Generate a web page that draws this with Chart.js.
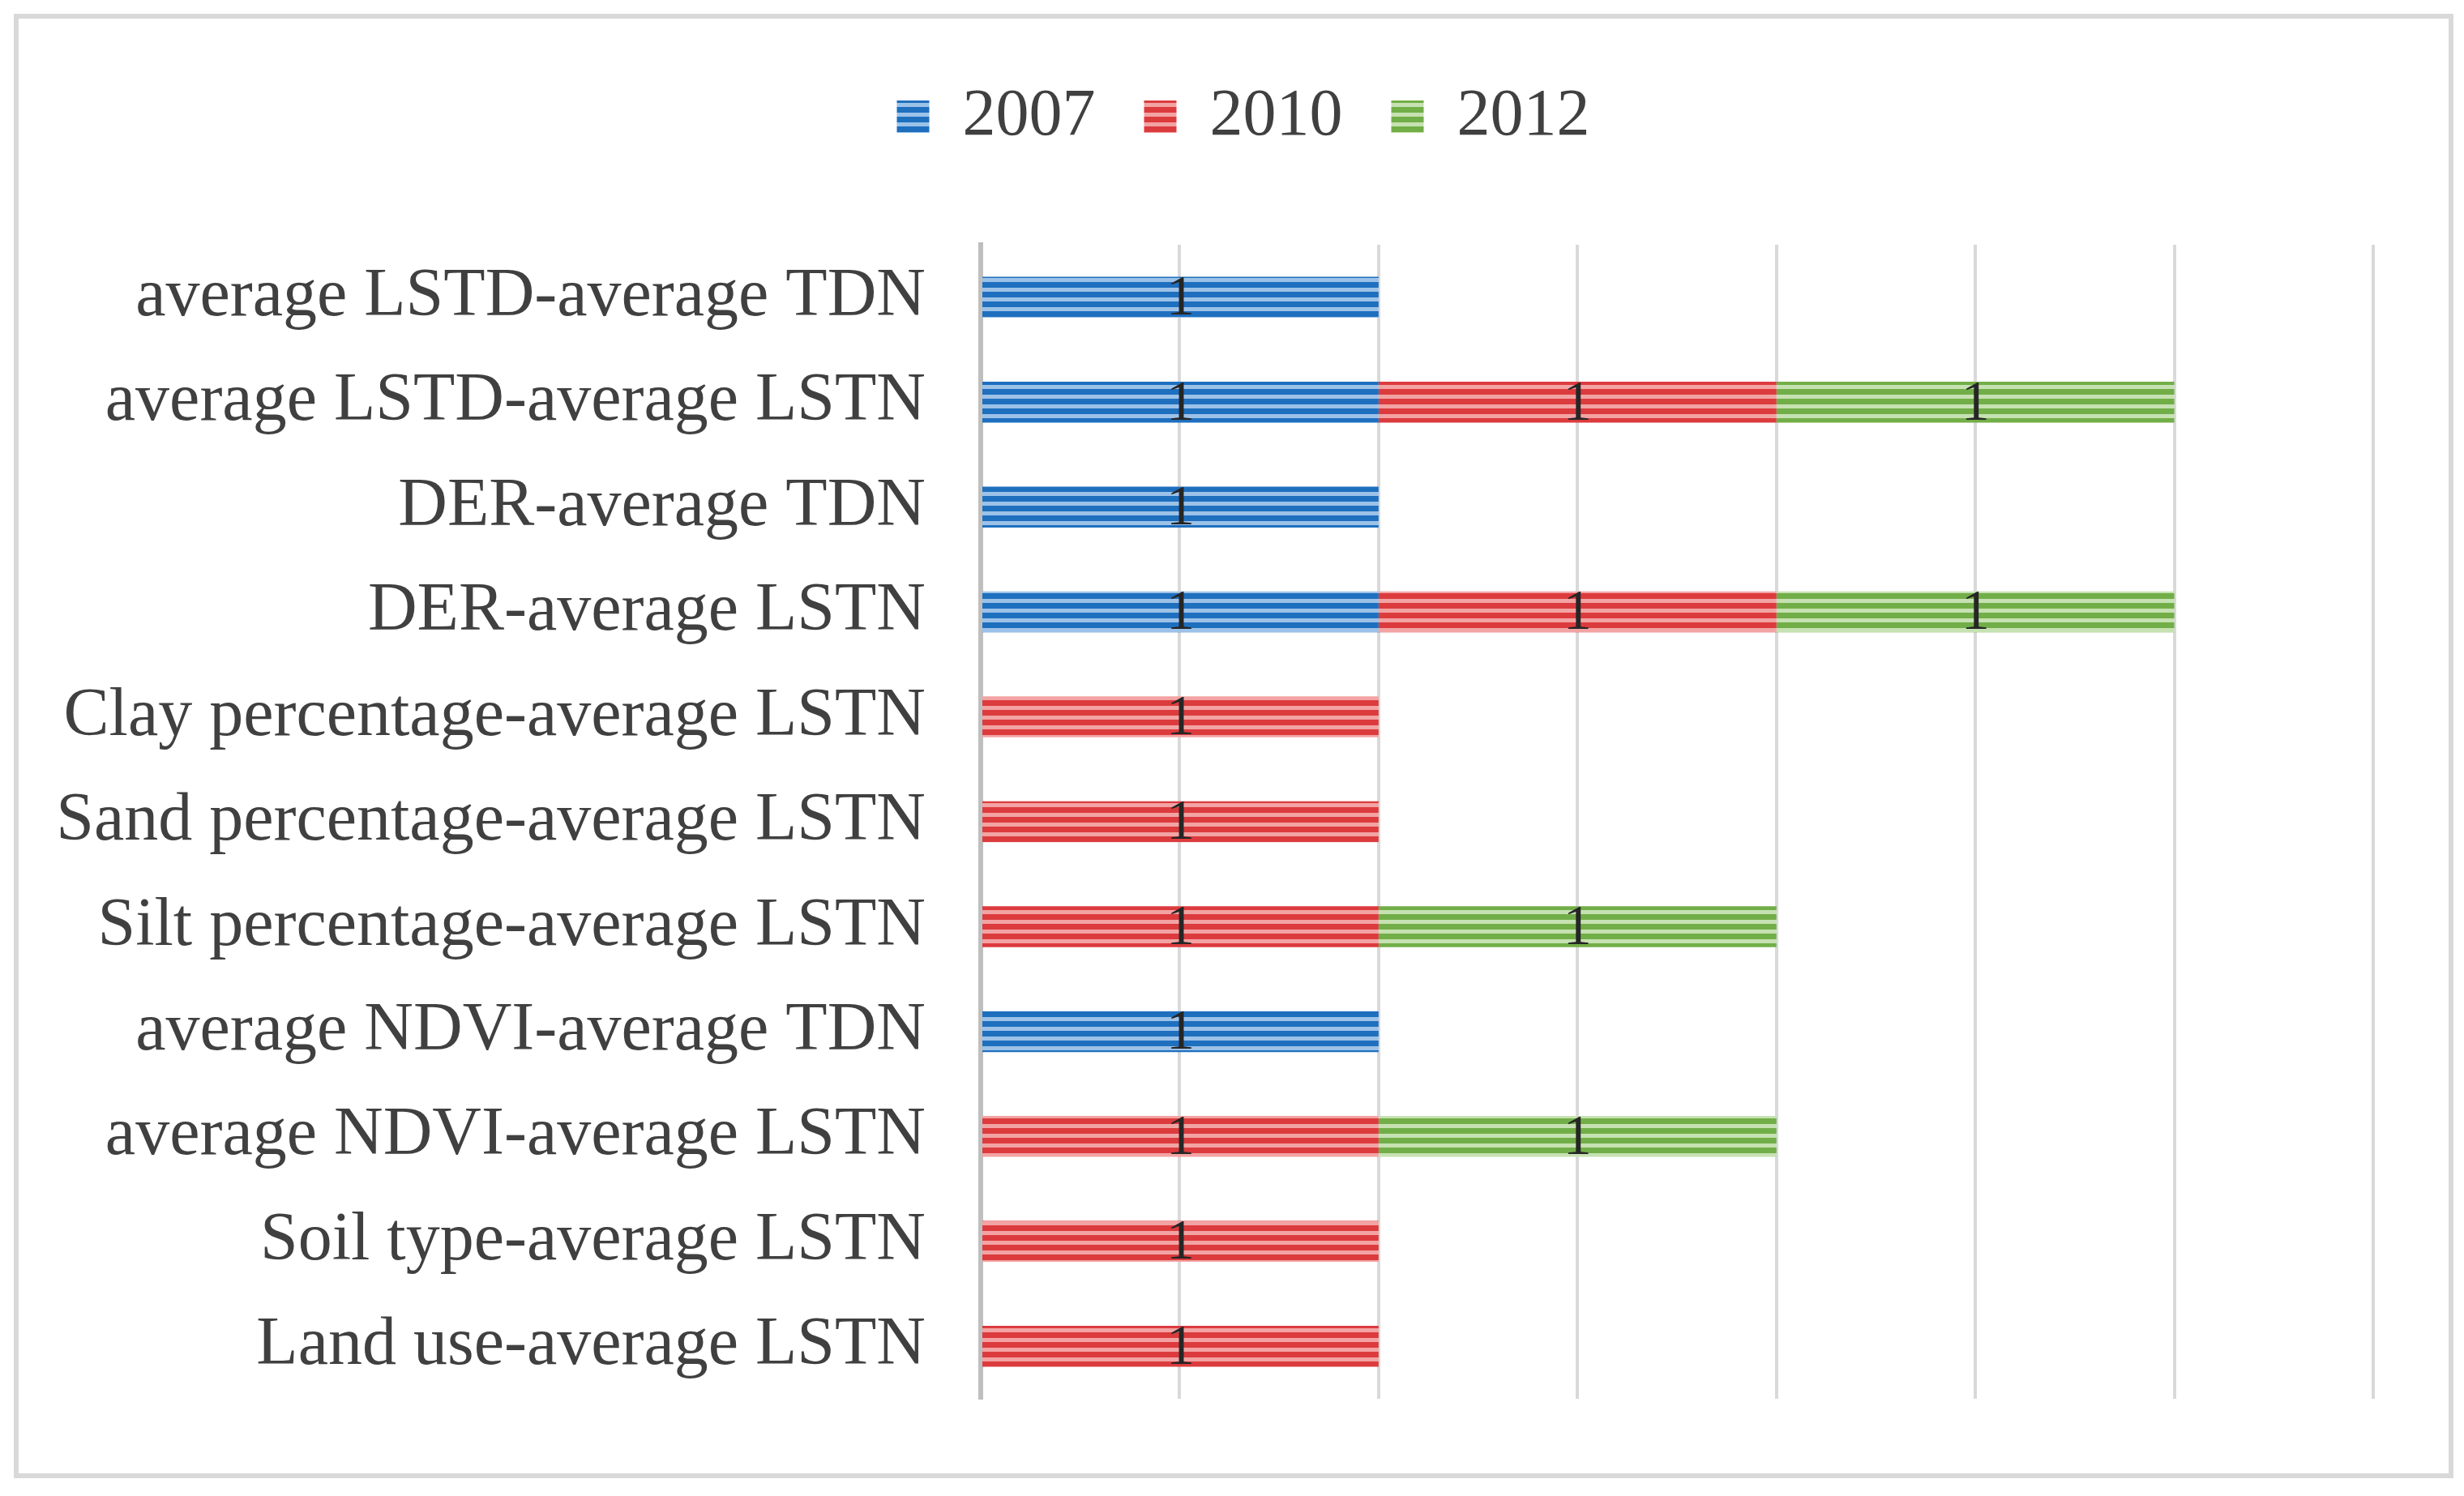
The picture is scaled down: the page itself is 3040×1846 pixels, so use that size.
<!DOCTYPE html>
<html lang="en">
  <head>
    <meta charset="UTF-8" />
    <title>Stacked bars 2007 / 2010 / 2012</title>
    <script src="https://cdn.jsdelivr.net/npm/chart.js"></script>
    <style>
      html,
      body {
        margin: 0;
        padding: 0;
        background: #fff;
      }
      .moldura {
        position: absolute;
        left: 17px;
        top: 17px;
        width: 3010px;
        height: 1807px;
        box-sizing: border-box;
        border: 6px solid #d9d9d9;
        pointer-events: none;
      }
      .chart-container {
        position: absolute;
        left: 0;
        top: 0;
        width: 3040px;
        height: 1846px;
      }
    </style>
  </head>
  <body>
    <div class="chart-container">
      <canvas id="grafico"></canvas>
    </div>
    <div class="moldura"></div>

    <script>
      const categorias = [
        "average LSTD-average TDN",
        "average LSTD-average LSTN",
        "DER-average TDN",
        "DER-average LSTN",
        "Clay percentage-average LSTN",
        "Sand percentage-average LSTN",
        "Silt percentage-average LSTN",
        "average NDVI-average TDN",
        "average NDVI-average LSTN",
        "Soil type-average LSTN",
        "Land use-average LSTN",
      ];
      const anos = ["2007", "2010", "2012"];
      const valores2007 = [1, 1, 1, 1, null, null, null, 1, null, null, null];
      const valores2010 = [null, 1, null, 1, 1, 1, 1, null, 1, 1, 1];
      const valores2012 = [null, 1, null, 1, null, null, 1, null, 1, null, null];

      const fonte = "'Liberation Serif', 'Times New Roman', serif";

      // horizontal stripes like the original fill
      function listrado(escuro, claro) {
        const c = document.createElement("canvas");
        c.width = 8;
        c.height = 12;
        const g = c.getContext("2d");
        g.fillStyle = claro;
        g.fillRect(0, 0, 8, 12);
        g.fillStyle = escuro;
        g.fillRect(0, 0, 8, 7);
        return g.createPattern(c, "repeat");
      }

      const rotulos = {
        id: "rotulos",
        afterDatasetsDraw(chart) {
          const ctx = chart.ctx;
          ctx.save();
          ctx.font = "70px " + fonte;
          ctx.fillStyle = "#262626";
          ctx.textAlign = "center";
          ctx.textBaseline = "middle";
          chart.data.datasets.forEach((ds, i) => {
            const meta = chart.getDatasetMeta(i);
            meta.data.forEach((bar, j) => {
              if (ds.data[j] == null) return;
              const p = bar.getCenterPoint();
              ctx.fillText(String(ds.data[j]), p.x, p.y + 3);
            });
          });
          ctx.restore();
        },
      };

      // more room under the legend, and legend centred a bit to the right
      const espacoLegenda = {
        id: "espacoLegenda",
        beforeInit(chart) {
          const fitOriginal = chart.legend.fit;
          chart.legend.fit = function () {
            fitOriginal.bind(chart.legend)();
            this.height += 107;
          };
        },
        afterLayout(chart) {
          chart.legend.left = 140;
        },
      };

      const ctx = document.getElementById("grafico").getContext("2d");

      new Chart(ctx, {
        type: "bar",
        data: {
          labels: categorias,
          datasets: [
            {
              label: anos[0],
              data: valores2007,
              backgroundColor: listrado("#1f6fbf", "#9cc2e8"),
              borderWidth: 0,
            },
            {
              label: anos[1],
              data: valores2010,
              backgroundColor: listrado("#dc3b3e", "#f3a3a3"),
              borderWidth: 0,
            },
            {
              label: anos[2],
              data: valores2012,
              backgroundColor: listrado("#72ae48", "#c6e1b2"),
              borderWidth: 0,
            },
          ],
        },
        options: {
          indexAxis: "y",
          responsive: true,
          maintainAspectRatio: false,
          devicePixelRatio: 1,
          animation: false,
          layout: {
            padding: { top: 43, right: 112, bottom: 120, left: 0 },
          },
          datasets: {
            bar: {
              categoryPercentage: 1,
              barPercentage: 0.39,
            },
          },
          scales: {
            x: {
              stacked: true,
              min: 0,
              max: 3.5,
              ticks: { display: false, stepSize: 0.5 },
              grid: {
                color: "#d9d9d9",
                lineWidth: 4,
                drawTicks: false,
              },
              border: { display: false },
            },
            y: {
              stacked: true,
              grid: { display: false, drawTicks: false },
              border: { display: true, color: "#bfbfbf", width: 6 },
              ticks: {
                color: "#404040",
                padding: 68,
                font: { size: 84, family: fonte },
              },
              afterFit(scale) {
                scale.width = 1210;
              },
            },
          },
          plugins: {
            legend: {
              position: "top",
              labels: {
                color: "#404040",
                boxWidth: 40,
                boxHeight: 40,
                padding: 60,
                font: { size: 82, family: fonte },
              },
            },
            tooltip: { enabled: false },
          },
        },
        plugins: [rotulos, espacoLegenda],
      });
    </script>
  </body>
</html>
